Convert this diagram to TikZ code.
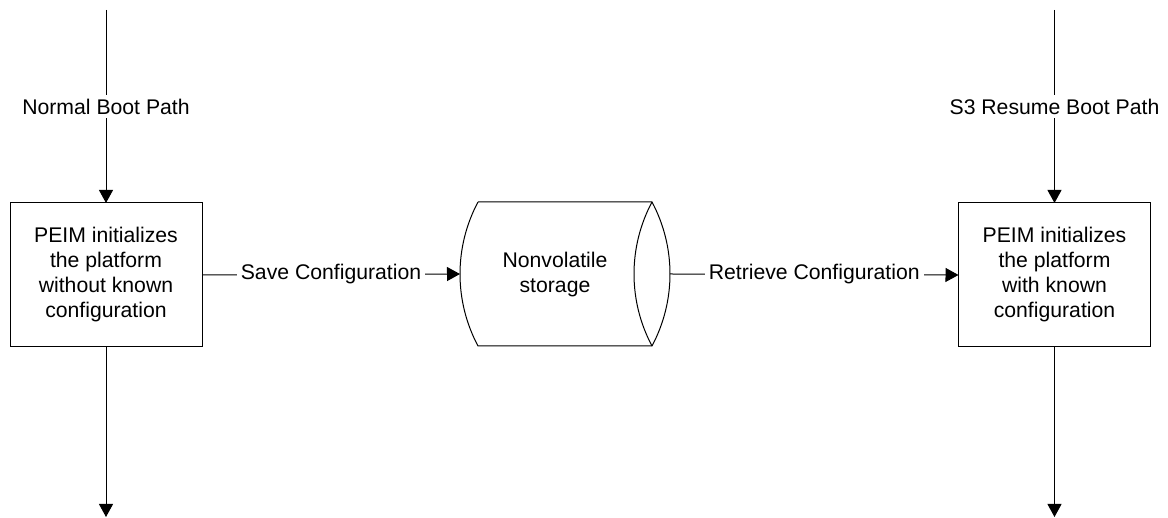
\documentclass[tikz,border=0pt]{standalone}
\usepackage{fontspec}
\setmainfont{Liberation Sans}
\usetikzlibrary{arrows.meta,positioning}

\tikzset{
  procbox/.style={draw, line width=1pt, minimum width=192pt, minimum height=144pt,
    align=center, inner sep=0pt, outer sep=0pt},
  flowline/.style={line width=1pt, -{Triangle[length=13pt,width=14pt]}},
  pathlabel/.style={fill=white, inner sep=4pt}
}

\begin{document}
\begin{tikzpicture}[x=1pt, y=1pt, font=\fontsize{21.2}{25}\selectfont]
    \useasboundingbox (0,0) rectangle (1168,518);

    % Boot path boxes
    \node[procbox] (normal) at (106,243) {PEIM initializes\\the platform\\without known\\configuration};
    \node[procbox] (resume) at (1054.5,243) {PEIM initializes\\the platform\\with known\\configuration};

    % Nonvolatile storage
    \node[minimum width=210pt, minimum height=144pt, inner sep=0pt, outer sep=0pt] (nvs) at (565,244) {};
    \node[align=center] (nvstext) at ([xshift=-10pt,yshift=-1pt]nvs.center) {Nonvolatile\\storage};
    \draw[line width=1pt] ([xshift=18pt]nvs.north west) -- ([xshift=-18pt]nvs.north east)
        arc[start angle=28.07, end angle=-28.07, radius=153pt]
        -- ([xshift=18pt]nvs.south west)
        arc[start angle=208.07, end angle=151.93, radius=153pt];
    \draw[line width=1pt] ([xshift=-18pt]nvs.north east)
        arc[start angle=151.93, end angle=208.07, radius=153pt];

    % Entry and exit points
    \coordinate (normaltop) at (106,508);
    \coordinate (normalend) at (106,1);
    \coordinate (resumetop) at (1054.5,508);
    \coordinate (resumeend) at (1054.5,1);

    % Normal boot path
    \draw[flowline] (normaltop) -- node[pathlabel] (normallabel) {Normal Boot Path} (normal.north);
    \draw[flowline] (normal.south) -- (normalend);

    % S3 resume boot path
    \draw[flowline] (resumetop) -- node[pathlabel] (resumelabel) {S3 Resume Boot Path} (resume.north);
    \draw[flowline] (resume.south) -- (resumeend);

    % Configuration save and restore
    \draw[flowline] (normal.east) -- node[pathlabel] (savelabel) {Save Configuration} (nvs.west);
    \draw[flowline] (nvs.east) -- node[pathlabel] (retrievelabel) {Retrieve Configuration} (resume.west);
\end{tikzpicture}
\end{document}
